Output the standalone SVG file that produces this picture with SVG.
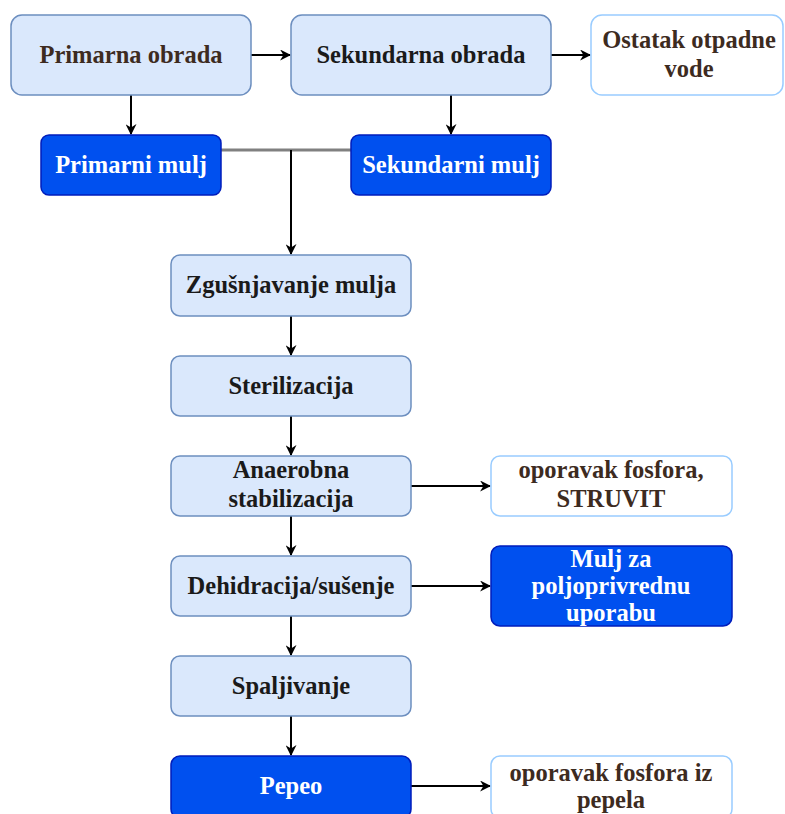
<svg xmlns="http://www.w3.org/2000/svg" width="785" height="814" viewBox="0 0 785 814">
<style>
.lb{fill:#dae8fc;stroke:#6c8ebf;stroke-width:1.5}
.db{fill:#0050ef;stroke:#001dbc;stroke-width:1.5}
.wb{fill:#ffffff;stroke:#99ccff;stroke-width:1.5}
text{font-family:"Liberation Serif","Times New Roman",serif;font-weight:bold;font-size:24.5px;text-anchor:middle}
.tb{fill:#3d2b1f}
.tk{fill:#1a1a1a}
.tw{fill:#ffffff}
.c{stroke:#000;stroke-width:2;fill:none}
</style>
<defs>
<marker id="ah" viewBox="0 0 10 10" refX="9" refY="5" markerWidth="11" markerHeight="11" markerUnits="userSpaceOnUse" orient="auto">
<path d="M0,0 L10,5 L0,10 L3,5 z" fill="#000"/>
</marker>
</defs>
<g id="connectors">
<line class="c" x1="251" y1="55" x2="290" y2="55" marker-end="url(#ah)"/>
<line class="c" x1="551" y1="55" x2="590" y2="55" marker-end="url(#ah)"/>
<line class="c" x1="131" y1="95" x2="131" y2="134" marker-end="url(#ah)"/>
<line class="c" x1="451" y1="95" x2="451" y2="134" marker-end="url(#ah)"/>
<line x1="221" y1="150" x2="351" y2="150" stroke="#808080" stroke-width="3"/>
<line class="c" x1="291" y1="150" x2="291" y2="254" marker-end="url(#ah)"/>
<line class="c" x1="291" y1="316" x2="291" y2="355" marker-end="url(#ah)"/>
<line class="c" x1="291" y1="416" x2="291" y2="455" marker-end="url(#ah)"/>
<line class="c" x1="291" y1="516" x2="291" y2="555" marker-end="url(#ah)"/>
<line class="c" x1="291" y1="616" x2="291" y2="655" marker-end="url(#ah)"/>
<line class="c" x1="291" y1="716" x2="291" y2="755" marker-end="url(#ah)"/>
<line class="c" x1="411" y1="486" x2="490" y2="486" marker-end="url(#ah)"/>
<line class="c" x1="411" y1="586" x2="490" y2="586" marker-end="url(#ah)"/>
<line class="c" x1="411" y1="786" x2="490" y2="786" marker-end="url(#ah)"/>
</g>
<g id="primarna-obrada"><rect class="lb" x="11" y="15" width="240" height="80" rx="11"/><text class="tb" x="131" y="63">Primarna obrada</text></g>
<g id="sekundarna-obrada"><rect class="lb" x="291" y="15" width="260" height="80" rx="11"/><text class="tk" x="421" y="63">Sekundarna obrada</text></g>
<g id="ostatak"><rect class="wb" x="591" y="15" width="192" height="80" rx="11"/><text class="tb" x="689" y="48">Ostatak otpadne</text><text class="tb" x="689" y="77">vode</text></g>
<g id="primarni-mulj"><rect class="db" x="41" y="135" width="180" height="60" rx="8"/><text class="tw" x="131" y="173">Primarni mulj</text></g>
<g id="sekundarni-mulj"><rect class="db" x="351" y="135" width="200" height="60" rx="8"/><text class="tw" x="451" y="173">Sekundarni mulj</text></g>
<g id="zgusnjavanje"><rect class="lb" x="171" y="255" width="240" height="61" rx="9"/><text class="tk" x="291" y="293">Zgušnjavanje mulja</text></g>
<g id="sterilizacija"><rect class="lb" x="171" y="356" width="240" height="60" rx="9"/><text class="tk" x="291" y="394">Sterilizacija</text></g>
<g id="anaerobna"><rect class="lb" x="171" y="456" width="240" height="60" rx="9"/><text class="tk" x="291" y="478">Anaerobna</text><text class="tk" x="291" y="507">stabilizacija</text></g>
<g id="struvit"><rect class="wb" x="491" y="456" width="241" height="60" rx="9"/><text class="tb" x="611" y="478">oporavak fosfora,</text><text class="tb" x="611" y="507">STRUVIT</text></g>
<g id="dehidracija"><rect class="lb" x="171" y="556" width="240" height="60" rx="9"/><text class="tk" x="291" y="594">Dehidracija/sušenje</text></g>
<g id="mulj-poljo"><rect class="db" x="491" y="546" width="241" height="80" rx="9"/><text class="tw" x="611" y="567">Mulj za</text><text class="tw" x="611" y="594">poljoprivrednu</text><text class="tw" x="611" y="621">uporabu</text></g>
<g id="spaljivanje"><rect class="lb" x="171" y="656" width="240" height="60" rx="9"/><text class="tk" x="291" y="694">Spaljivanje</text></g>
<g id="pepeo"><rect class="db" x="171" y="756" width="240" height="62" rx="9"/><text class="tw" x="291" y="794">Pepeo</text></g>
<g id="fosfor-pepeo"><rect class="wb" x="491" y="756" width="241" height="62" rx="9"/><text class="tb" x="611" y="781">oporavak fosfora iz</text><text class="tb" x="611" y="808">pepela</text></g>
</svg>
